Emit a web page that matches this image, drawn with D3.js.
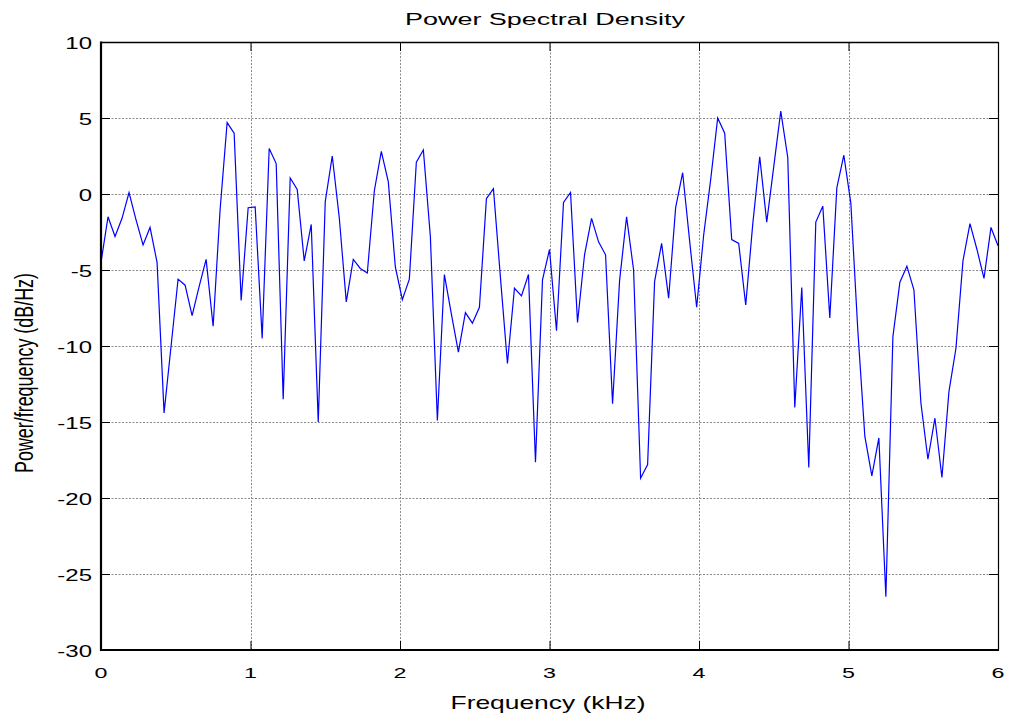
<!DOCTYPE html>
<html>
<head>
<meta charset="utf-8">
<script src="https://cdn.jsdelivr.net/npm/d3@7"></script>
<style>
  html, body { margin: 0; padding: 0; background: #fff; }
  svg { display: block; }
  text { font-family: "Liberation Sans", Arial, Helvetica, sans-serif; fill: #000; }
</style>
</head>
<body>
<svg id="chart" width="1011" height="717"></svg>
<script>
// ---- data ----
const titleText = "Power Spectral Density";
const xLabelText = "Frequency (kHz)";
const yLabelText = "Power/frequency (dB/Hz)";
const xTicks = [0, 1, 2, 3, 4, 5, 6];
const yTicks = [-30, -25, -20, -15, -10, -5, 0, 5, 10];
const maxFreqKHz = 6;
const nBins = 128; // 129 frequency bins from 0 to 6 kHz
const psdDb = [
  -4.5, -1.5, -2.8, -1.6, 0.1, -1.7, -3.35, -2.2, -4.5, -14.4,
  -10.0, -5.6, -6.0, -8.0, -6.1, -4.3, -8.7, -1.0, 4.7, 4.0,
  -7.0, -0.9, -0.85, -9.5, 3.0, 2.0, -13.5, 1.05, 0.3, -4.4,
  -2.0, -15.0, -0.5, 2.5, -1.55, -7.1, -4.3, -4.9, -5.2, 0.2,
  2.8, 0.8, -4.8, -6.95, -5.6, 2.1, 2.9, -2.8, -14.9, -5.3,
  -7.9, -10.4, -7.8, -8.5, -7.45, -0.3, 0.35, -5.5, -11.15, -6.2,
  -6.7, -5.3, -17.65, -5.65, -3.65, -9.0, -0.55, 0.1, -8.45, -4.0,
  -1.6, -3.15, -4.0, -13.8, -5.7, -1.5, -5.0, -18.7, -17.8, -5.75,
  -3.25, -6.85, -0.9, 1.4, -3.1, -7.45, -2.7, 0.95, 5.0, 4.0,
  -3.0, -3.25, -7.3, -2.0, 2.45, -1.85, 1.8, 5.45, 2.4, -14.05,
  -6.15, -18.0, -1.85, -0.8, -8.15, 0.4, 2.55, -0.6, -9.0, -15.95,
  -18.55, -16.05, -26.5, -9.4, -5.8, -4.75, -6.3, -13.75, -17.45, -14.75,
  -18.65, -13.0, -10.15, -4.4, -1.95, -3.65, -5.55, -2.2, -3.4
];

// ---- layout ----
const svg = d3.select("#chart");
const pLeft = 101, pRight = 998, pTop = 42, pBottom = 650;
const sx = 1.5; // horizontal stretch of the glyphs

const x = d3.scaleLinear().domain([0, maxFreqKHz]).range([pLeft, pRight]);
const y = d3.scaleLinear().domain([-30, 10]).range([pBottom, pTop]);

const points = psdDb.map((v, i) => ({ f: i * maxFreqKHz / nBins, v }));

// grid
const grid = svg.append("g").attr("stroke", "#8a8a8a").attr("stroke-width", 1)
  .attr("stroke-dasharray", "2,1.5").attr("fill", "none");
grid.selectAll("line.gx").data(xTicks.filter(t => t > 0 && t < maxFreqKHz)).join("line")
  .attr("x1", d => Math.round(x(d)) + 0.5).attr("x2", d => Math.round(x(d)) + 0.5)
  .attr("y1", pTop).attr("y2", pBottom);
grid.selectAll("line.gy").data(yTicks.filter(t => t > -30 && t < 10)).join("line")
  .attr("y1", d => Math.round(y(d)) + 0.5).attr("y2", d => Math.round(y(d)) + 0.5)
  .attr("x1", pLeft).attr("x2", pRight);

// data line
svg.append("path").datum(points)
  .attr("fill", "none").attr("stroke", "#0000ff").attr("stroke-width", 1.2)
  .attr("stroke-linejoin", "miter")
  .attr("d", d3.line().x(d => x(d.f)).y(d => y(d.v)));

// axes (ticks inward on all four sides)
const tickLen = 9;
const axL = svg.append("g").attr("transform", `translate(${pLeft},0)`)
  .call(d3.axisRight(y).tickValues(yTicks).tickSize(tickLen).tickFormat(""));
const axR = svg.append("g").attr("transform", `translate(${pRight},0)`)
  .call(d3.axisLeft(y).tickValues(yTicks).tickSize(tickLen).tickFormat(""));
const axB = svg.append("g").attr("transform", `translate(0,${pBottom})`)
  .call(d3.axisTop(x).tickValues(xTicks).tickSize(tickLen).tickFormat(""));
const axT = svg.append("g").attr("transform", `translate(0,${pTop})`)
  .call(d3.axisBottom(x).tickValues(xTicks).tickSize(tickLen).tickFormat(""));
[axL, axR, axB, axT].forEach(g => {
  g.select(".domain").remove();
  g.selectAll(".tick line").attr("stroke", "#000").attr("stroke-width", 1);
});

// frame
svg.append("line").attr("x1", pLeft).attr("x2", pRight).attr("y1", pTop + 0.5).attr("y2", pTop + 0.5)
  .attr("stroke", "#000").attr("stroke-width", 1.3);
svg.append("line").attr("x1", pRight + 0.5).attr("x2", pRight + 0.5).attr("y1", pTop).attr("y2", pBottom)
  .attr("stroke", "#000").attr("stroke-width", 1.2);
svg.append("line").attr("x1", pLeft).attr("x2", pLeft).attr("y1", pTop - 0.5).attr("y2", pBottom + 1)
  .attr("stroke", "#000").attr("stroke-width", 2.2);
svg.append("line").attr("x1", pLeft - 1).attr("x2", pRight + 1).attr("y1", pBottom).attr("y2", pBottom)
  .attr("stroke", "#000").attr("stroke-width", 1.8);

// tick labels
svg.append("g").selectAll("text").data(yTicks).join("text")
  .attr("transform", d => `translate(92,${y(d) + 6.5}) scale(${sx},1)`)
  .attr("text-anchor", "end").attr("font-size", 16)
  .text(d => d);
svg.append("g").selectAll("text").data(xTicks).join("text")
  .attr("transform", d => `translate(${x(d)},677.5) scale(${sx},1)`)
  .attr("text-anchor", "middle").attr("font-size", 15.5)
  .text(d => d);

// title and axis labels
svg.append("text")
  .attr("transform", `translate(545,25) scale(${sx},1)`)
  .attr("text-anchor", "middle").attr("font-size", 17)
  .attr("textLength", 280 / sx).attr("lengthAdjust", "spacingAndGlyphs")
  .text(titleText);
svg.append("text")
  .attr("transform", `translate(548,709) scale(${sx},1)`)
  .attr("text-anchor", "middle").attr("font-size", 17.5)
  .attr("textLength", 195 / sx).attr("lengthAdjust", "spacingAndGlyphs")
  .text(xLabelText);
svg.append("text")
  .attr("transform", `translate(32.5,373) scale(${sx},1) rotate(-90)`)
  .attr("text-anchor", "middle").attr("font-size", 17.5)
  .attr("textLength", 200).attr("lengthAdjust", "spacingAndGlyphs")
  .text(yLabelText);
</script>
</body>
</html>
